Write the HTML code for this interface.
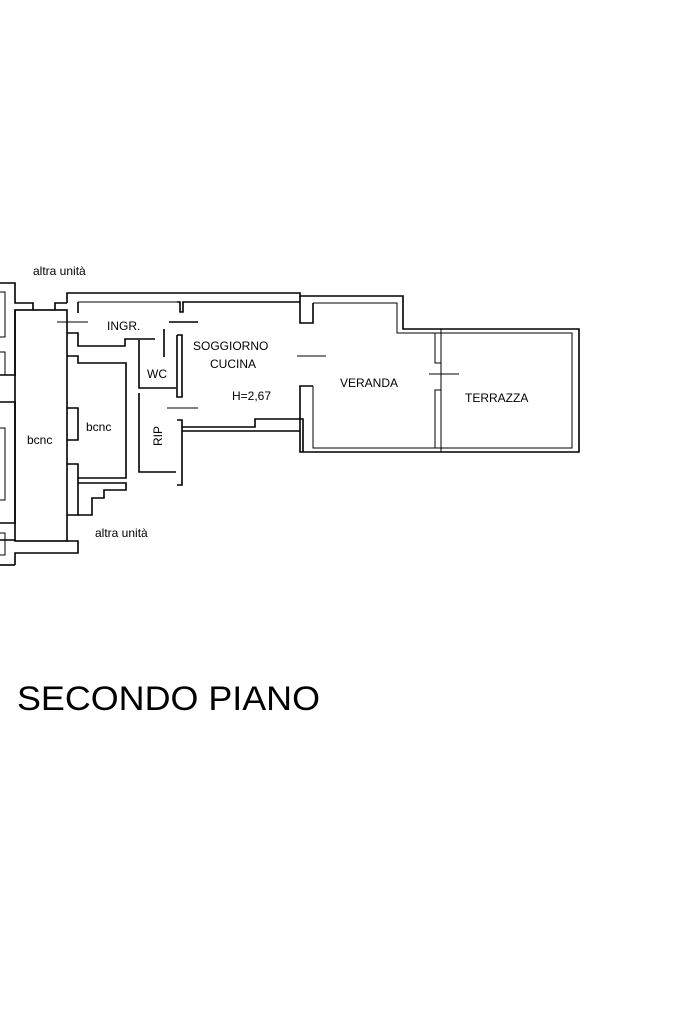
<!DOCTYPE html>
<html><head><meta charset="utf-8"><style>
html,body{margin:0;padding:0;background:#fff;}
svg{display:block}
text{font-family:"Liberation Sans",sans-serif;fill:#000}
</style></head><body>
<svg width="683" height="1023" viewBox="0 0 683 1023" xmlns="http://www.w3.org/2000/svg">
<g fill="none" stroke="#000" stroke-width="1.6">
<!-- outer wall -->
<polyline points="67,303 67,293 300,293 300,296 403,296 403,329 579,329 579,452 300,452 300,386 313,386"/>
<polyline points="300,296 300,323 313,323 313,303"/>
<!-- left corridor -->
<rect x="15" y="310" width="52" height="231"/>
<polyline points="0,283 15,283 15,303 33,303 33,310"/>
<polyline points="55,310 55,303 67,303"/>
<polyline points="15,310 15,375 0,375"/>
<polyline points="0,402 15,402 15,523 0,523"/>
<polyline points="15,541 15,540 0,540"/>
<polyline points="67,541 78,541 78,553 15,553 15,565"/>
<polyline points="0,565 15,565"/>
</g>
<g fill="none" stroke="#000" stroke-width="1">
<polyline points="0,292 5,292 5,337 0,337"/>
<polyline points="0,352 5,352 5,375"/>
<polyline points="0,428 5,428 5,500 0,500"/>
<polyline points="0,533 5,533 5,555 0,555"/>
</g>
<g fill="none" stroke="#000" stroke-width="1.6">
<!-- internal -->
<polyline points="67,333 78,333 78,346 125,346 125,339 155,339"/>
<polyline points="67,356 78,356 78,363 126,363 126,478 78,478 78,464 67,464"/>
<polyline points="67,408 78,408 78,440 67,440"/>
<polyline points="78,478 78,515 67,515"/>
<polyline points="78,483 126,483 126,490 104,490 104,498 92,498 92,515 78,515"/>
<polyline points="139,340 139,388 176,388"/>
<polyline points="139,393 139,472 176,472"/>
<polyline points="177,335 182,335 182,397 177,397 177,335"/>
<polyline points="177,420 182,420 182,485 177,485"/>
<polyline points="182,427 255,427 255,419 303,419 303,452"/>
<polyline points="182,431 300,431"/>
<polyline points="177,302 180,302 180,312 183,312 183,302 300,302"/>
<polyline points="78,302 78,313"/>
</g>
<g fill="none" stroke="#000" stroke-width="1">
<polyline points="78,302 177,302"/>
<polyline points="313,303 397,303 397,333 572,333 572,448 313,448 313,386"/>
<line x1="441" y1="329" x2="441" y2="452"/>
<polyline points="435,333 435,363 441,363"/>
<polyline points="435,448 435,390 441,390"/>
<line x1="429" y1="374" x2="459" y2="374"/>
<line x1="441" y1="365" x2="441" y2="388"/>
<line x1="297" y1="356" x2="326" y2="356"/>
<line x1="57" y1="322" x2="88" y2="322"/>
<line x1="169" y1="322" x2="198" y2="322" stroke-width="1.6"/>
<line x1="164" y1="329" x2="164" y2="357" stroke-width="1.6"/>
<line x1="167" y1="408" x2="198" y2="408"/>
</g>
<g font-size="12">
<text x="33" y="275">altra unità</text>
<text x="107" y="330">INGR.</text>
<text x="193" y="350">SOGGIORNO</text>
<text x="210" y="368">CUCINA</text>
<text x="147" y="378">WC</text>
<text x="232" y="400">H=2,67</text>
<text x="27" y="444">bcnc</text>
<text x="86" y="431">bcnc</text>
<text x="340" y="387">VERANDA</text>
<text x="465" y="402">TERRAZZA</text>
<text x="95" y="537">altra unità</text>
<text x="0" y="0" transform="translate(162,446) rotate(-90)">RIP</text>
</g>
<text x="17" y="710" font-size="34" textLength="303" lengthAdjust="spacingAndGlyphs">SECONDO PIANO</text>
</svg>
</body></html>
